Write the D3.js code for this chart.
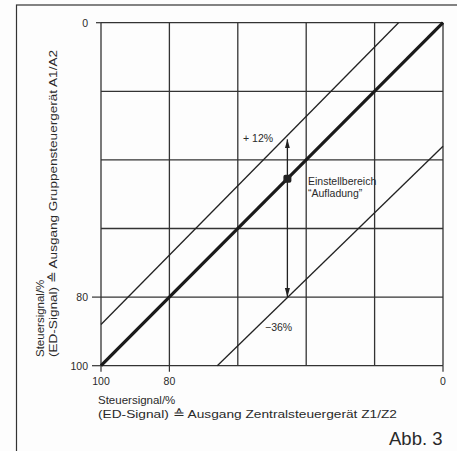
<!DOCTYPE html>
<html>
<head>
<meta charset="utf-8">
<script src="https://cdn.jsdelivr.net/npm/d3@7"></script>
<style>
  body { margin: 0; background: #fdfdfd; }
  svg { display: block; }
  text { font-family: "Liberation Sans", Arial, sans-serif; fill: #2a2a2a; }
</style>
</head>
<body>
<svg id="chart" width="457" height="451"></svg>
<script>
// values in % (x axis runs from 100 on the left to 0 on the right)
var gridValues = [0, 20, 40, 60, 80, 100];
var xTickLabels = [100, 80, 0];
var yTickLabels = [0, 80, 100];

// characteristic lines [x, y]
var mainLine = [[100, 100], [0, 0]];
var upperLine = [[100, 88], [13, 0]];
var lowerLine = [[0, 36], [66, 100]];

// setting range marker
var markerX = 45.5;
var markerY = 45.5;
var arrowTop = 34;
var arrowBottom = 80;

var svg = d3.select('#chart');

var x = d3.scaleLinear().domain([100, 0]).range([101, 443]);
var y = d3.scaleLinear().domain([0, 100]).range([22.7, 365.7]);

// outer frame (right and bottom cut off)
svg.append('rect')
  .attr('x', 16.5).attr('y', 5)
  .attr('width', 460).attr('height', 460)
  .style('fill', 'none')
  .style('stroke', '#333')
  .style('stroke-width', 1.2);

var defs = svg.append('defs');
defs.append('marker')
  .attr('id', 'head')
  .attr('viewBox', '0 0 10 10')
  .attr('refX', 10).attr('refY', 5)
  .attr('markerWidth', 9).attr('markerHeight', 9)
  .attr('markerUnits', 'userSpaceOnUse')
  .attr('orient', 'auto')
  .append('path')
  .attr('d', 'M0,2.2 L10,5 L0,7.8 Z')
  .style('fill', '#222');

// grid
svg.selectAll('.vgrid')
  .data(gridValues)
  .enter()
  .append('line')
  .attr('class', 'vgrid')
  .attr('x1', function(d){ return x(d) })
  .attr('x2', function(d){ return x(d) })
  .attr('y1', y(0))
  .attr('y2', y(100))
  .style('stroke', '#333')
  .style('stroke-width', 1.3);

svg.selectAll('.hgrid')
  .data(gridValues)
  .enter()
  .append('line')
  .attr('class', 'hgrid')
  .attr('x1', x(100))
  .attr('x2', x(0))
  .attr('y1', function(d){ return y(d) })
  .attr('y2', function(d){ return y(d) })
  .style('stroke', '#333')
  .style('stroke-width', 1.3);

// ticks + labels
svg.selectAll('.ytick')
  .data(yTickLabels)
  .enter()
  .append('line')
  .attr('x1', function(d){ return d == 0 ? x(100) - 5 : x(100) - 9 })
  .attr('x2', x(100))
  .attr('y1', function(d){ return y(d) })
  .attr('y2', function(d){ return y(d) })
  .style('stroke', '#333')
  .style('stroke-width', 1.2);

svg.selectAll('.ylab')
  .data(yTickLabels)
  .enter()
  .append('text')
  .attr('x', 88)
  .attr('y', function(d){ return y(d) + 4 })
  .attr('text-anchor', 'end')
  .style('font-size', '10.5px')
  .text(function(d){ return d });

svg.selectAll('.xtick')
  .data(xTickLabels)
  .enter()
  .append('line')
  .attr('x1', function(d){ return x(d) })
  .attr('x2', function(d){ return x(d) })
  .attr('y1', y(100))
  .attr('y2', y(100) + 6)
  .style('stroke', '#333')
  .style('stroke-width', 1.2);

svg.selectAll('.xlab')
  .data(xTickLabels)
  .enter()
  .append('text')
  .attr('x', function(d){ return x(d) })
  .attr('y', 385)
  .attr('text-anchor', 'middle')
  .style('font-size', '10.5px')
  .text(function(d){ return d });

// characteristic lines
var line = d3.line()
  .x(function(d){ return x(d[0]) })
  .y(function(d){ return y(d[1]) });

svg.append('path').attr('d', line(upperLine))
  .style('fill', 'none').style('stroke', '#222').style('stroke-width', 1.3);
svg.append('path').attr('d', line(lowerLine))
  .style('fill', 'none').style('stroke', '#222').style('stroke-width', 1.3);
svg.append('path').attr('d', line(mainLine))
  .style('fill', 'none').style('stroke', '#1a1a1a').style('stroke-width', 3.2);

// arrows
svg.append('line')
  .attr('x1', x(markerX)).attr('x2', x(markerX))
  .attr('y1', y(markerY)).attr('y2', y(arrowTop))
  .style('stroke', '#222').style('stroke-width', 1.3)
  .attr('marker-end', 'url(#head)');
svg.append('line')
  .attr('x1', x(markerX)).attr('x2', x(markerX))
  .attr('y1', y(markerY)).attr('y2', y(arrowBottom))
  .style('stroke', '#222').style('stroke-width', 1.3)
  .attr('marker-end', 'url(#head)');

svg.append('rect')
  .attr('x', x(markerX) - 4).attr('y', y(markerY) - 4)
  .attr('width', 8).attr('height', 8)
  .attr('rx', 2)
  .style('fill', '#222');

// annotations
svg.append('text').attr('x', 243).attr('y', 142)
  .style('font-size', '10.5px').text('+ 12%');
svg.append('text').attr('x', 265).attr('y', 331)
  .style('font-size', '10.5px').text('\u221236%');
svg.append('text').attr('x', 308).attr('y', 185)
  .style('font-size', '10.5px').text('Einstellbereich');
svg.append('text').attr('x', 308).attr('y', 197)
  .style('font-size', '10.5px').text('\u201CAufladung\u201D');

// axis titles
svg.append('text').attr('x', 98).attr('y', 404)
  .style('font-size', '11.5px').text('Steuersignal/%');
svg.append('text').attr('x', 98).attr('y', 418)
  .style('font-size', '11.5px')
  .attr('textLength', 299).attr('lengthAdjust', 'spacingAndGlyphs')
  .text('(ED-Signal) \u2259 Ausgang Zentralsteuergerät Z1/Z2');

var yTitle = svg.append('g').attr('transform', 'translate(0,357) rotate(-90)');
yTitle.append('text').attr('x', 0).attr('y', 44)
  .style('font-size', '11.5px').text('Steuersignal/%');
yTitle.append('text').attr('x', 0).attr('y', 57)
  .style('font-size', '11.5px')
  .attr('textLength', 307).attr('lengthAdjust', 'spacingAndGlyphs')
  .text('(ED-Signal) \u2259 Ausgang Gruppensteuergerät A1/A2');

svg.append('text').attr('x', 389).attr('y', 445)
  .style('font-size', '18.5px').text('Abb. 3');
</script>
</body>
</html>
